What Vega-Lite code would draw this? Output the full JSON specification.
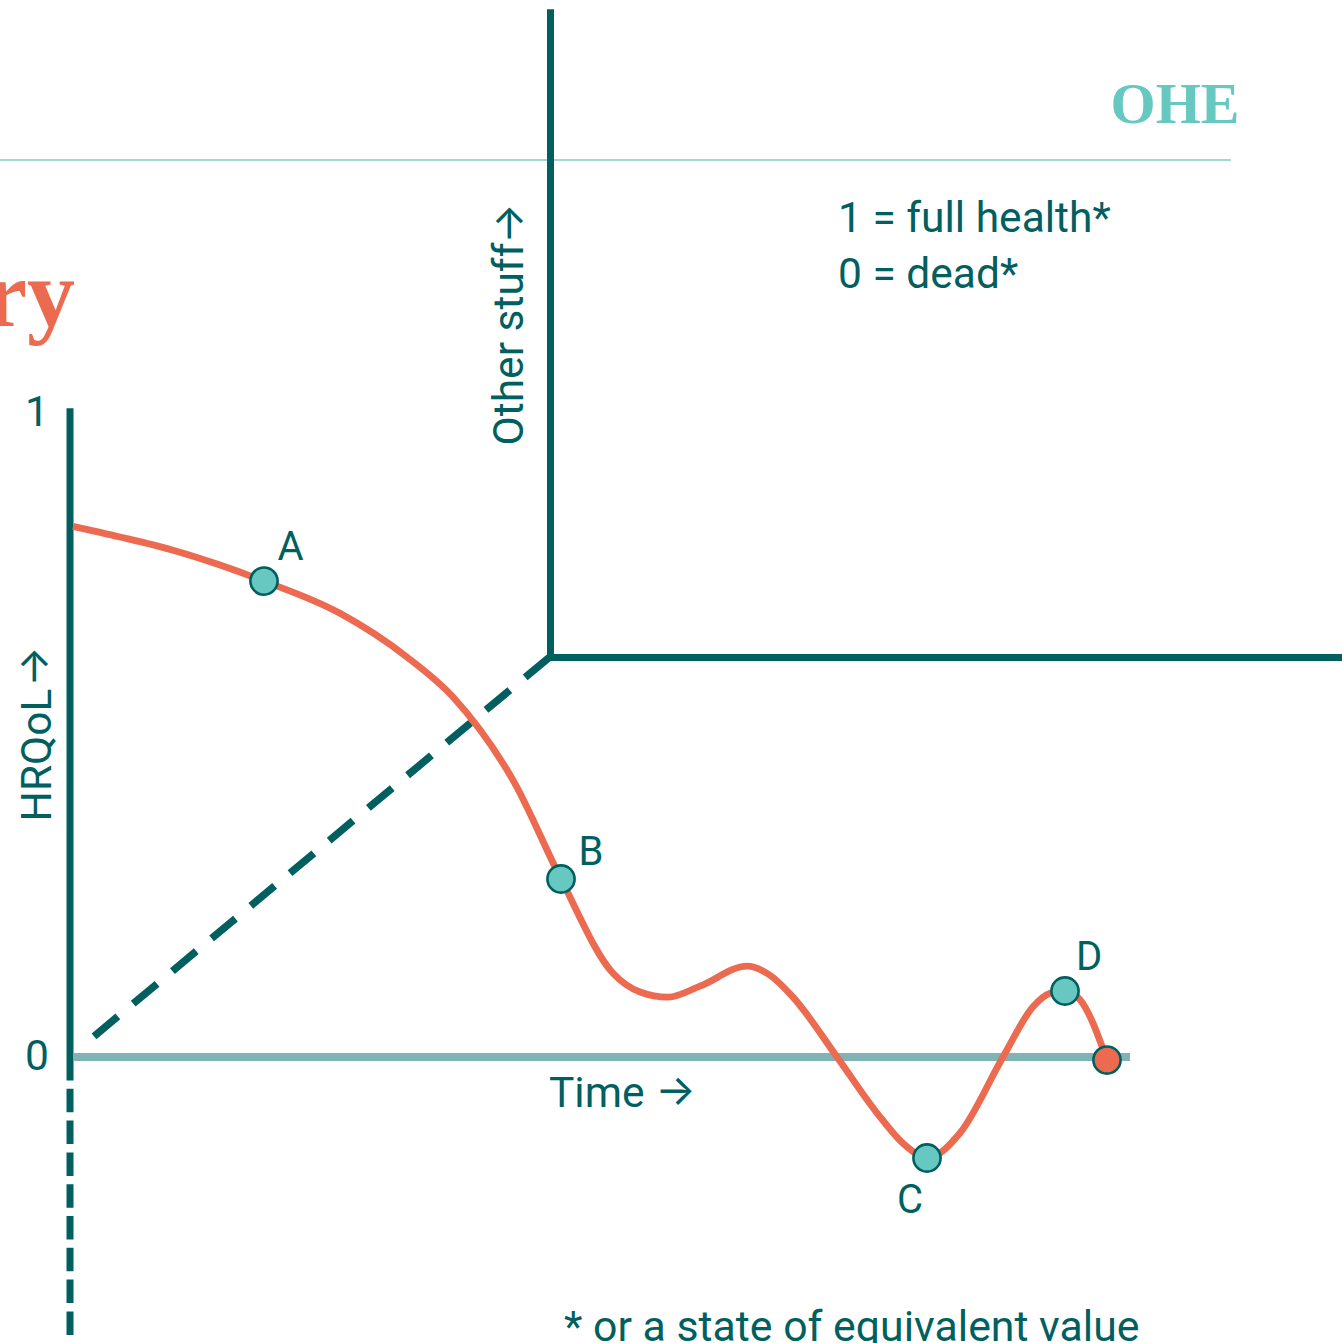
{
  "$schema": "https://vega.github.io/schema/vega-lite/v6.json",
  "width": 1342,
  "height": 1343,
  "autosize": {"type": "none"},
  "padding": 0,
  "background": "white",
  "config": {"view": {"stroke": null}, "text": {"font": "Roboto"}},
  "datasets": {
    "curve": [
      {"t": 0.03, "h": 0.824},
      {"t": 0.50, "h": 0.8075},
      {"t": 1.03, "h": 0.787},
      {"t": 1.50, "h": 0.764},
      {"t": 1.94, "h": 0.739},
      {"t": 2.70, "h": 0.689},
      {"t": 3.37, "h": 0.621},
      {"t": 3.83, "h": 0.559},
      {"t": 4.10, "h": 0.508},
      {"t": 4.43, "h": 0.430},
      {"t": 4.91, "h": 0.2764},
      {"t": 5.43, "h": 0.130},
      {"t": 5.70, "h": 0.101},
      {"t": 5.98, "h": 0.093},
      {"t": 6.30, "h": 0.110},
      {"t": 6.77, "h": 0.141},
      {"t": 7.00, "h": 0.127},
      {"t": 7.23, "h": 0.093},
      {"t": 7.67, "h": 0.000},
      {"t": 8.07, "h": -0.087},
      {"t": 8.35, "h": -0.137},
      {"t": 8.57, "h": -0.1568},
      {"t": 8.90, "h": -0.118},
      {"t": 9.33, "h": 0.000},
      {"t": 9.63, "h": 0.078},
      {"t": 9.80, "h": 0.099},
      {"t": 9.95, "h": 0.1025},
      {"t": 10.10, "h": 0.089},
      {"t": 10.37, "h": -0.0047}
    ],
    "points": [
      {"label": "A", "kind": "state", "t": 1.94, "h": 0.739},
      {"label": "B", "kind": "state", "t": 4.91, "h": 0.2764},
      {"label": "C", "kind": "state", "t": 8.57, "h": -0.1568},
      {"label": "D", "kind": "state", "t": 9.95, "h": 0.1025},
      {"label": "end", "kind": "death", "t": 10.37, "h": -0.0047}
    ],
    "labels": [
      {"label": "A", "t": 2.205, "h": 0.790},
      {"label": "B", "t": 5.21, "h": 0.3175},
      {"label": "C", "t": 8.40, "h": -0.2236},
      {"label": "D", "t": 10.19, "h": 0.1545}
    ]
  },
  "encoding": {
    "x": {"field": "t", "type": "quantitative", "scale": {"domain": [-0.7, 12.72], "nice": false, "zero": false}, "axis": null},
    "y": {"field": "h", "type": "quantitative", "scale": {"domain": [-0.444099, 1.641304], "nice": false, "zero": false}, "axis": null}
  },
  "layer": [
    {
      "data": {"values": [{"t": -0.7, "t2": 11.61, "h": 1.39286}]},
      "mark": {"type": "rule", "color": "#a3d8d5", "strokeWidth": 2},
      "encoding": {"x2": {"field": "t2"}}
    },
    {
      "data": {"values": [{"t": 0.04, "t2": 10.6, "h": 0}]},
      "mark": {"type": "rule", "color": "#82b3b4", "strokeWidth": 8},
      "encoding": {"x2": {"field": "t2"}}
    },
    {
      "data": {"values": [{"t": 0, "h": 1.0073, "h2": 0}]},
      "mark": {"type": "rule", "color": "#01605f", "strokeWidth": 7},
      "encoding": {"y2": {"field": "h2"}}
    },
    {
      "data": {"values": [{"t": 0, "h": 0, "h2": -0.44}]},
      "mark": {"type": "rule", "color": "#01605f", "strokeWidth": 7, "strokeDash": [23.5, 8.3]},
      "encoding": {"y2": {"field": "h2"}}
    },
    {
      "data": {"values": [{"t": 4.79, "h": 0.6203, "t2": 0.22, "h2": 0.0295}]},
      "mark": {"type": "rule", "color": "#01605f", "strokeWidth": 7.5, "strokeDash": [31, 20]},
      "encoding": {"x2": {"field": "t2"}, "y2": {"field": "h2"}}
    },
    {
      "data": {"values": [
        {"o": 1, "t": 4.805, "h": 1.627},
        {"o": 2, "t": 4.805, "h": 0.6203},
        {"o": 3, "t": 12.8, "h": 0.6203}
      ]},
      "mark": {"type": "line", "color": "#01605f", "strokeWidth": 7, "strokeJoin": "miter"},
      "encoding": {"order": {"field": "o", "type": "quantitative"}}
    },
    {
      "data": {"name": "curve"},
      "mark": {"type": "line", "color": "#ec6a50", "strokeWidth": 6.8, "interpolate": "monotone"}
    },
    {
      "data": {"name": "points"},
      "mark": {"type": "point", "shape": "circle", "filled": true, "size": 740, "stroke": "#01605f", "strokeWidth": 2.6, "opacity": 1},
      "encoding": {
        "color": {"field": "kind", "type": "nominal", "scale": {"domain": ["state", "death"], "range": ["#66c8c0", "#ec6a50"]}, "legend": null}
      }
    },
    {
      "data": {"name": "labels"},
      "mark": {"type": "text", "fontSize": 40, "color": "#01605f", "align": "center", "baseline": "middle"},
      "encoding": {"text": {"field": "label"}}
    },
    {
      "data": {"values": [{"txt": "1", "t": -0.33, "h": 1.0}, {"txt": "0", "t": -0.33, "h": 0.0}]},
      "mark": {"type": "text", "fontSize": 42.5, "color": "#01605f", "align": "center", "baseline": "middle"},
      "encoding": {"text": {"field": "txt"}}
    },
    {
      "data": {"values": [{"txt": "HRQoL", "t": -0.32, "h": 0.469}, {"txt": "Other stuff", "t": 4.40, "h": 1.1071}]},
      "mark": {"type": "text", "fontSize": 42.5, "color": "#01605f", "align": "center", "baseline": "middle", "angle": 270},
      "encoding": {"text": {"field": "txt"}}
    },
    {
      "data": {"values": [{"txt": "→", "t": -0.35, "h": 0.6064}, {"txt": "→", "t": 4.40, "h": 1.2943}]},
      "mark": {"type": "text", "font": "Inter", "fontSize": 42.5, "color": "#01605f", "align": "center", "baseline": "middle", "angle": 270},
      "encoding": {"text": {"field": "txt"}}
    },
    {
      "data": {"values": [{"txt": "→", "t": 6.055, "h": -0.0536}]},
      "mark": {"type": "text", "font": "Inter", "fontSize": 42.5, "color": "#01605f", "align": "center", "baseline": "middle"},
      "encoding": {"text": {"field": "txt"}}
    },
    {
      "data": {"values": [
        {"txt": "1 = full health*", "t": 7.68, "h": 1.302},
        {"txt": "0 = dead*", "t": 7.68, "h": 1.2148},
        {"txt": "Time", "t": 4.79, "h": -0.0575}
      ]},
      "mark": {"type": "text", "fontSize": 42.5, "color": "#01605f", "align": "left", "baseline": "middle"},
      "encoding": {"text": {"field": "txt"}}
    },
    {
      "data": {"values": [{"txt": "* or a state of equivalent value", "t": 4.94, "h": -0.4405}]},
      "mark": {"type": "text", "fontSize": 42.8, "color": "#01605f", "align": "left", "baseline": "alphabetic"},
      "encoding": {"text": {"field": "txt"}}
    },
    {
      "data": {"values": [{"txt": "ry", "t": 0.05, "h": 1.135}]},
      "mark": {"type": "text", "font": "Liberation Serif", "fontWeight": "bold", "fontSize": 96, "color": "#ec6a50", "align": "right", "baseline": "alphabetic"},
      "encoding": {"text": {"field": "txt"}}
    },
    {
      "data": {"values": [{"txt": "OHE", "t": 11.05, "h": 1.4503}]},
      "mark": {"type": "text", "font": "Liberation Serif", "fontWeight": "bold", "fontSize": 58, "color": "#66c8c0", "align": "center", "baseline": "alphabetic"},
      "encoding": {"text": {"field": "txt"}}
    }
  ]
}
